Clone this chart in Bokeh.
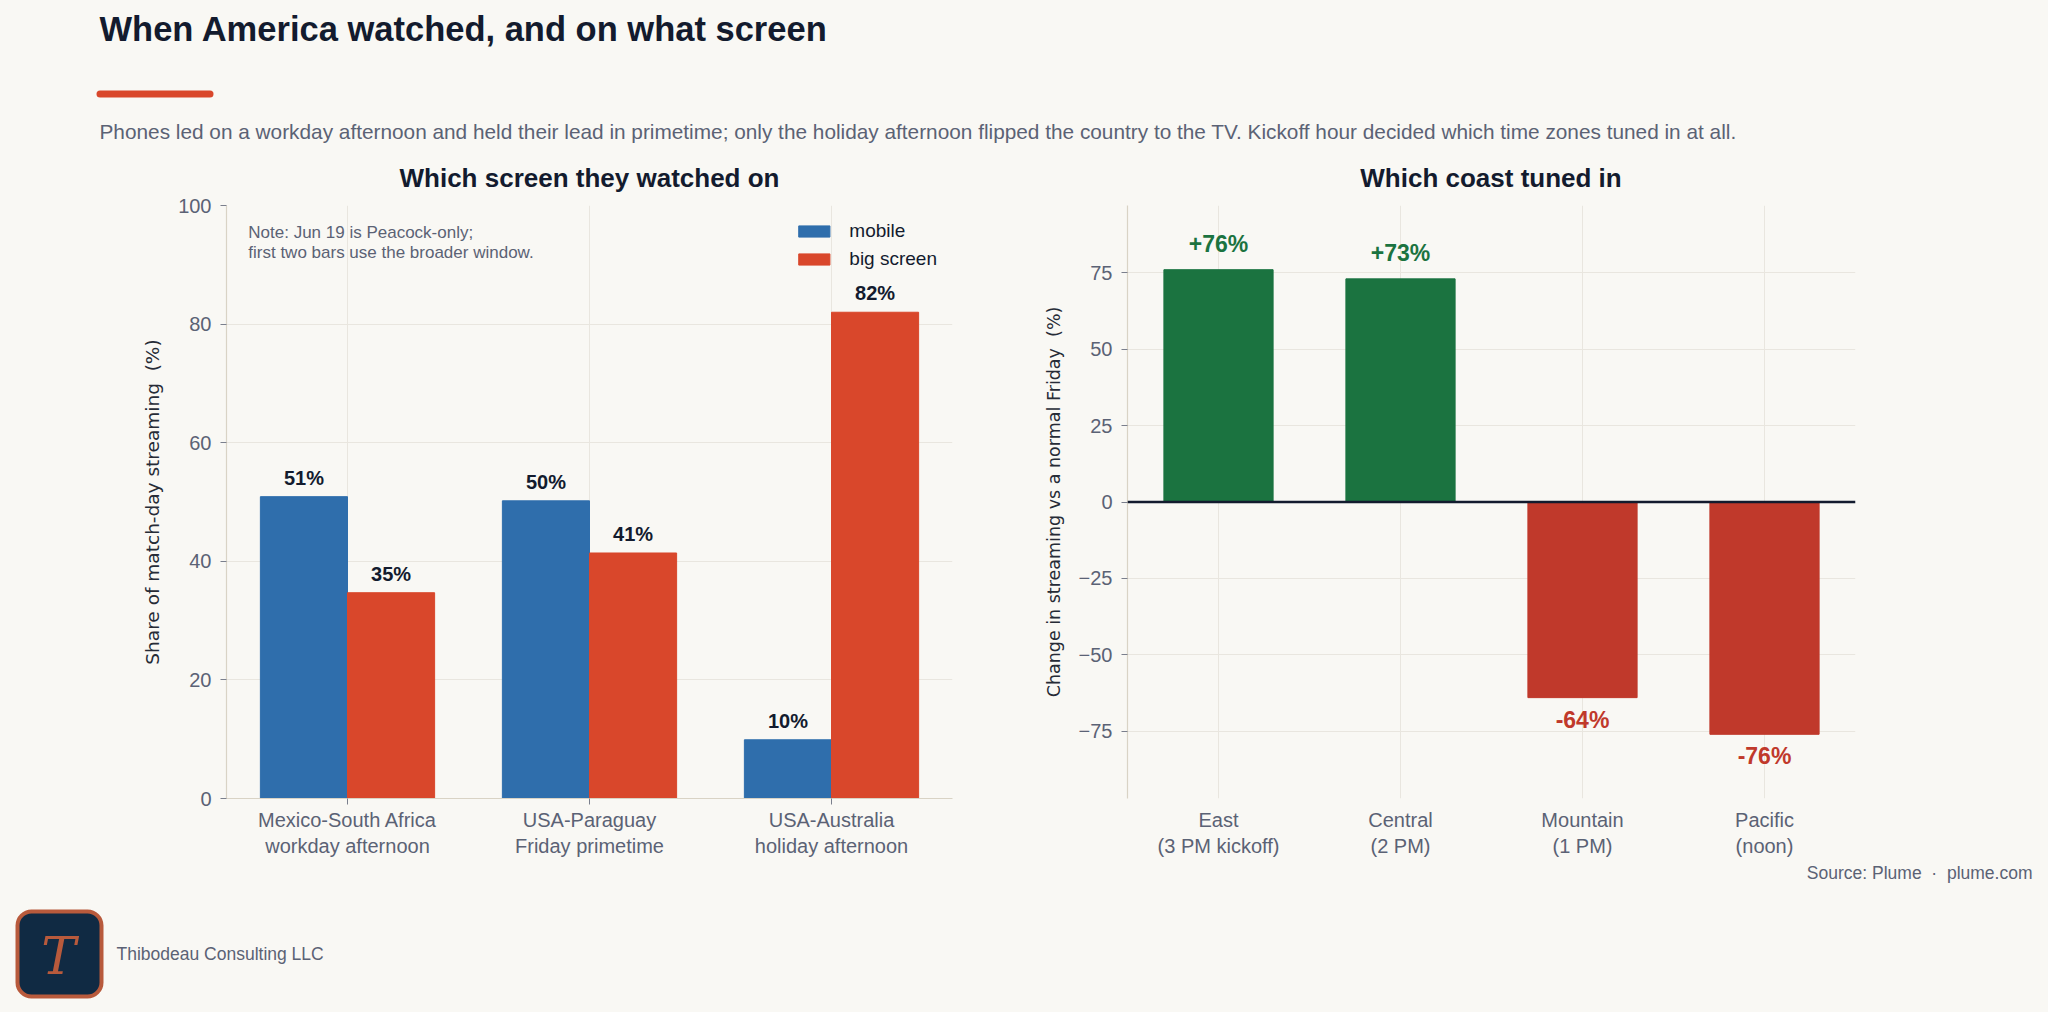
from bokeh.plotting import figure
from bokeh.layouts import column, row
from bokeh.models import (Range1d, FactorRange, Legend, LegendItem, ColumnDataSource,
                          FixedTicker, Span)
from bokeh.transform import dodge
from bokeh.core.properties import value
from bokeh.embed import file_html
from bokeh.resources import INLINE

# ---------------- data ----------------
matches = ["Mexico-South Africa", "USA-Paraguay", "USA-Australia"]
contexts = ["workday afternoon", "Friday primetime", "holiday afternoon"]
mobile_share = [50.9, 50.2, 9.9]
big_screen_share = [34.7, 41.4, 82.0]
share_ticks = [0, 20, 40, 60, 80, 100]

zones = ["East", "Central", "Mountain", "Pacific"]
kickoffs = ["(3 PM kickoff)", "(2 PM)", "(1 PM)", "(noon)"]
change_pct = [76, 73, -64, -76]
change_ticks = [-75, -50, -25, 0, 25, 50, 75]

NB = "\u00a0"
TITLE = "When America watched, and on what screen"
SUBTITLE = ("Phones led on a workday afternoon and held their lead in primetime; only the holiday "
            "afternoon flipped the country to the TV. Kickoff hour decided which time zones tuned in at all.")
LEFT_TITLE = "Which screen they watched on"
RIGHT_TITLE = "Which coast tuned in"
LEFT_YLABEL = "Share of match-day streaming" + NB + " (%)"
RIGHT_YLABEL = "Change in streaming vs a normal Friday" + NB + " (%)"
NOTE = "Note: Jun 19 is Peacock-only;\nfirst two bars use the broader window."
SOURCE = "Source: Plume" + NB + " \u00b7" + NB + " plume.com"
COMPANY = "Thibodeau Consulting LLC"

# ---------------- style ----------------
BG = "#f9f8f4"
NAVY = "#131b2e"
GRAY = "#5b6275"
LABEL_DARK = "#262b36"
BEIGE = "#d9d3c5"
GRID = "#e9e6df"
TICK = "#7a7f8c"
BLUE = "#2f6eac"
ORANGE = "#d9472b"
GREEN = "#1b7340"
RED = "#c0392b"
LOGO_BG = "#102a43"
LOGO_FG = "#b85a3c"
SANS = "Liberation Sans"

W = 2048
HEAD_H = 193
ROW_H = 860 - HEAD_H


def blank(h, top):
    p = figure(width=W, height=h, x_range=Range1d(0, W), y_range=Range1d(top + h, top),
               output_backend="svg", toolbar_location=None, x_axis_type=None, y_axis_type=None,
               min_border=0, outline_line_color=None, background_fill_color=BG,
               border_fill_color=BG)
    p.grid.visible = False
    return p


# ---------------- header (page y 0..193) ----------------
header = blank(HEAD_H, 0)
header.text(x=[99], y=[28.5], text=[TITLE], text_font=value(SANS), text_font_style="bold",
            text_font_size="34.5px", text_color=NAVY, text_baseline="middle")
header.segment(x0=[99.5], y0=[93.5], x1=[209.5], y1=[93.5], line_width=7, line_cap="round",
               line_color=ORANGE)
header.text(x=[99], y=[131], text=[SUBTITLE], text_font=value(SANS), text_font_size="20.8px",
            text_color=GRAY, text_baseline="middle")
header.text(x=[589, 1490.5], y=[177.5, 177.5], text=[LEFT_TITLE, RIGHT_TITLE],
            text_font=value(SANS), text_font_style="bold", text_font_size="26px",
            text_color=NAVY, text_align="center", text_baseline="middle")


def style_axes(p, ylabel_size):
    for ax in (p.xaxis[0], p.yaxis[0]):
        ax.major_label_text_font = SANS
        ax.major_label_text_font_size = "20px"
        ax.major_label_text_color = GRAY
        ax.axis_line_color = BEIGE
        ax.axis_line_width = 1.2
        ax.major_tick_line_color = TICK
        ax.major_tick_in = 0
        ax.major_tick_out = 6
        ax.minor_tick_line_color = None
        ax.axis_label_text_font = "DejaVu Sans"
        ax.axis_label_text_font_style = "normal"
        ax.axis_label_text_font_size = ylabel_size
        ax.axis_label_text_color = LABEL_DARK
    p.yaxis[0].major_label_standoff = 9
    p.yaxis[0].axis_label_standoff = 12
    p.xaxis[0].major_label_standoff = 4
    p.xgrid.grid_line_color = GRID
    p.ygrid.grid_line_color = GRID


# ---------------- left panel (page x 0..1040, y 193..860) ----------------
factors_l = [f"{m}\n{c}" for m, c in zip(matches, contexts)]
src_l = ColumnDataSource(dict(
    cat=factors_l, mobile=mobile_share, big=big_screen_share,
    mobile_lbl=[f"{v:.0f}%" for v in mobile_share],
    big_lbl=[f"{v:.0f}%" for v in big_screen_share],
))
left = figure(width=1040, height=ROW_H, x_range=FactorRange(factors=factors_l),
              y_range=Range1d(0, 100), output_backend="svg", toolbar_location=None,
              min_border_left=226, min_border_right=88, min_border_top=12, min_border_bottom=62,
              background_fill_color=BG, border_fill_color=BG, outline_line_color=None)
r_mob = left.vbar(x=dodge("cat", -0.18, range=left.x_range), top="mobile", width=0.36,
                  source=src_l, fill_color=BLUE, line_color=BLUE)
r_big = left.vbar(x=dodge("cat", 0.18, range=left.x_range), top="big", width=0.36,
                  source=src_l, fill_color=ORANGE, line_color=ORANGE)
for col, off in (("mobile", -0.18), ("big", 0.18)):
    left.text(x=dodge("cat", off, range=left.x_range), y=col, text=col + "_lbl", source=src_l,
              text_align="center", text_baseline="bottom", y_offset=-8,
              text_font=value(SANS), text_font_style="bold", text_font_size="20px",
              text_color=NAVY)
left.text(x=[0.09], y=[97], text=[NOTE], text_align="left", text_baseline="top",
          text_font=value(SANS), text_font_size="17px", text_color=GRAY, text_line_height=1.05)
style_axes(left, "18.5px")
left.yaxis[0].ticker = FixedTicker(ticks=share_ticks)
left.yaxis[0].axis_label = LEFT_YLABEL
legend = Legend(items=[LegendItem(label="mobile", renderers=[r_mob]),
                       LegendItem(label="big screen", renderers=[r_big])],
                location="top_right", glyph_width=39, glyph_height=14, label_height=20,
                label_standoff=16, spacing=6, margin=9, padding=6,
                label_text_font=SANS, label_text_font_size="19px", label_text_color=NAVY,
                background_fill_alpha=0, border_line_alpha=0)
left.add_layout(legend)

# ---------------- right panel (page x 1040..2048) ----------------
factors_r = [f"{z}\n{k}" for z, k in zip(zones, kickoffs)]
src_r = ColumnDataSource(dict(
    cat=factors_r, val=change_pct,
    color=[GREEN if v >= 0 else RED for v in change_pct],
    lbl=[f"{v:+d}%" for v in change_pct],
    base=["bottom" if v >= 0 else "top" for v in change_pct],
    yoff=[-13 if v >= 0 else 9 for v in change_pct],
))
right = figure(width=1008, height=ROW_H, x_range=FactorRange(factors=factors_r),
               y_range=Range1d(-97, 97), output_backend="svg", toolbar_location=None,
               min_border_left=86, min_border_right=193, min_border_top=12, min_border_bottom=62,
               background_fill_color=BG, border_fill_color=BG, outline_line_color=None)
right.vbar(x="cat", top="val", bottom=0, width=0.6, source=src_r, fill_color="color",
           line_color="color")
right.text(x="cat", y="val", text="lbl", source=src_r, text_align="center",
           text_baseline="base", y_offset="yoff", text_font=value(SANS), text_font_style="bold",
           text_font_size="23px", text_color="color")
right.add_layout(Span(location=0, dimension="width", line_color=NAVY, line_width=2.5))
style_axes(right, "17.5px")
right.yaxis[0].ticker = FixedTicker(ticks=change_ticks)
right.yaxis[0].major_label_overrides = {t: str(t).replace("-", "\u2212") for t in change_ticks}
right.yaxis[0].axis_label = RIGHT_YLABEL
right.xaxis[0].axis_line_color = None
right.xaxis[0].major_tick_line_color = None
right.xaxis[0].major_tick_out = 0
right.xaxis[0].major_label_standoff = 10

# ---------------- footer (page y 860..1012) ----------------
footer = blank(152, 860)
footer.text(x=[2032], y=[872], text=[SOURCE], text_align="right", text_baseline="middle",
            text_font=value(SANS), text_font_size="17.5px", text_color=GRAY)
footer.quad(left=[17], right=[101], top=[911], bottom=[996], border_radius=14,
            fill_color=LOGO_BG, line_color=LOGO_FG, line_width=4)
footer.text(x=[58], y=[955], text=["T"], text_align="center", text_baseline="middle",
            text_font=value("DejaVu Serif"), text_font_style="italic", text_font_size="52px",
            text_color=LOGO_FG)
footer.text(x=[116], y=[953], text=[COMPANY], text_align="left", text_baseline="middle",
            text_font=value(SANS), text_font_size="17.5px", text_color=GRAY)

panels = row(left, right, styles={"background-color": BG})
layout = column(header, panels, footer, styles={"background-color": BG})
open("out.html", "w").write(file_html(layout, INLINE, title="When America watched"))
